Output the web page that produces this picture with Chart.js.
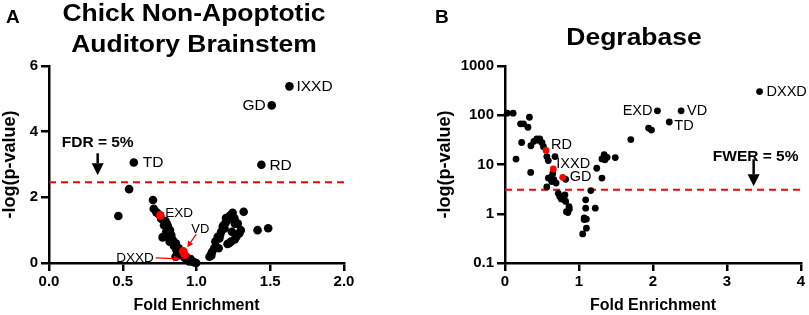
<!DOCTYPE html>
<html>
<head>
<meta charset="utf-8">
<script src="https://cdn.jsdelivr.net/npm/chart.js@4.4.1/dist/chart.umd.min.js"></script>
<style>
  body { margin: 0; background: #fff; font-family: "Liberation Sans", Arial, sans-serif; }
  #wrap { position: relative; width: 809px; height: 315px; overflow: hidden; }
  .panel { position: absolute; top: 0; }
  .letter { position: absolute; font-weight: bold; font-size: 19px; line-height: 19px; }
  .title { position: absolute; font-weight: bold; text-align: center; white-space: nowrap; transform: scaleX(1.15); }
</style>
</head>
<body>
<div id="wrap">
  <canvas class="panel" id="chartA" width="400" height="315" style="left:0"></canvas>
  <canvas class="panel" id="chartB" width="409" height="315" style="left:400px"></canvas>
  <div class="letter" style="left:6px;top:7px">A</div>
  <div class="letter" style="left:435px;top:7px">B</div>
  <div class="title" style="left:0;width:388px;top:-2px;font-size:23px;line-height:31px">Chick Non-Apoptotic<br>Auditory Brainstem</div>
  <div class="title" style="left:434px;width:400px;top:24px;font-size:23px;line-height:26px">Degrabase</div>
</div>
<script>
// ---- Panel A : chick non-apoptotic auditory brainstem ----
var chickFold = [0.543, 0.47, 0.705, 0.71, 0.727, 0.79, 0.806, 0.795, 0.777, 0.829, 0.84, 0.818,
  0.847, 0.863, 0.858, 0.885, 0.93, 0.948, 0.975, 0.998, 0.80, 0.82, 0.874, 0.96, 0.985, 0.77,
  0.74, 0.76, 0.78, 0.81, 0.83, 0.86, 0.88, 0.90, 0.92, 0.95,
  1.088, 1.106, 1.12, 1.128, 1.15, 1.144, 1.167, 1.178, 1.196, 1.211, 1.245, 1.257, 1.32, 1.24,
  1.30, 1.27, 1.234, 1.21, 1.414, 1.486, 1.155, 1.19, 1.225, 1.10, 1.28,
  1.10, 1.13, 1.16, 1.185, 1.20, 1.23, 1.26, 1.29, 1.26, 1.22];
var chickNegLogP = [2.25, 1.43, 1.92, 1.65, 1.55, 1.28, 1.11, 0.95, 0.80, 0.85, 0.70, 0.65,
  0.52, 0.40, 0.19, 0.24, 0.19, 0.09, 0.04, 0.0, 1.18, 1.0, 0.30, 0.12, 0.02, 0.78,
  1.5, 1.35, 1.15, 0.9, 0.75, 0.6, 0.45, 0.3, 0.15, 0.05,
  0.19, 0.34, 0.45, 0.65, 0.45, 0.80, 0.95, 1.11, 1.21, 1.31, 1.53, 1.36, 1.56, 0.95,
  1.0, 0.80, 0.65, 0.58, 1.0, 1.06, 0.75, 1.05, 1.42, 0.28, 1.20,
  0.22, 0.5, 0.85, 1.15, 1.37, 1.45, 1.2, 0.9, 0.72, 0.6];
var chickMotifs = ["IXXD", "GD", "TD", "RD", "EXD", "VD", "DXXD"];
var chickMotifFold = [1.63, 1.51, 0.575, 1.44, 0.755, 0.91, 0.92];
var chickMotifP = [5.38, 4.80, 3.06, 2.99, 1.45, 0.36, 0.25];
var chickMotifRed = [false, false, false, false, true, true, true];
var chickFDR = 2.46;
var chickArrowAt = 0.33;
var chickXTicks = [0, 0.5, 1.0, 1.5, 2.0];
var chickYTicks = [0, 2, 4, 6];

// ---- Panel B : Degrabase ----
var degFold = [0.03, 0.11, 0.33, 0.21, 0.25, 0.31, 0.225, 0.35, 0.39, 0.43, 0.47, 0.45, 0.50, 0.52,
  0.149, 0.347, 0.565, 0.585, 0.676, 0.645, 0.585, 0.66, 0.69, 0.82, 0.565, 0.62, 0.63,
  0.72, 0.74, 0.76, 0.81, 0.80, 0.82, 0.865, 0.87, 0.85, 0.83,
  1.05, 1.10, 1.07, 1.10, 1.07, 1.09, 1.09, 1.16, 1.22, 1.24, 1.31, 1.31, 1.34, 1.36, 1.38, 1.35,
  1.49, 1.70, 1.94, 1.98];
var degNegLogP = [110, 110, 91, 67, 67, 57, 28, 24, 29.5, 33, 33, 31, 27.8, 23,
  12.9, 6.9, 14.5, 12, 14.5, 6.5, 5.3, 4.9, 4.2, 5.0, 3.5, 5.5, 4.5,
  2.6, 2.25, 2.0, 2.4, 1.93, 1.78, 1.4, 1.25, 1.06, 1.1,
  0.39, 0.51, 0.82, 0.78, 0.76, 1.3, 1.92, 2.95, 1.3, 8.4, 5.3, 13, 15.8, 13.5, 14, 12.5,
  13.8, 32, 55, 50];
var degMotifs = ["DXXD", "EXD", "VD", "TD", "RD", "IXXD", "GD"];
var degMotifFold = [3.44, 2.06, 2.38, 2.22, 0.554, 0.653, 0.78];
var degMotifP = [302, 123, 123, 73, 19.3, 8.1, 5.5];
var degMotifRed = [false, false, false, false, true, true, true];
var degFWER = 3.07;
var degArrowAt = 3.36;
var degXTicks = [0, 1, 2, 3, 4];
var degYTicks = [0.1, 1, 10, 100, 1000];

function pts(xs, ys) {
    return xs.map(function (x, i) { return {x: x, y: ys[i]}; });
}
function pick(xs, ys, flags, want) {
    var out = [];
    for (var i = 0; i < xs.length; i++) {
        if (flags[i] === want) out.push({x: xs[i], y: ys[i]});
    }
    return out;
}

function arrow(ctx, x1, y1, x2, y2, color, width, head, headW) {
    var ang = Math.atan2(y2 - y1, x2 - x1);
    var bx = x2 - Math.cos(ang) * head, by = y2 - Math.sin(ang) * head;
    ctx.strokeStyle = color;
    ctx.fillStyle = color;
    ctx.lineWidth = width;
    ctx.beginPath();
    ctx.moveTo(x1, y1);
    ctx.lineTo(bx, by);
    ctx.stroke();
    ctx.beginPath();
    ctx.moveTo(x2, y2);
    ctx.lineTo(bx + Math.sin(ang) * headW, by - Math.cos(ang) * headW);
    ctx.lineTo(bx - Math.sin(ang) * headW, by + Math.cos(ang) * headW);
    ctx.closePath();
    ctx.fill();
}

// labels next to motif points + threshold arrow
var motifPlugin = {
    id: "motifLabels",
    afterDatasetsDraw: function (chart, args, o) {
        var ctx = chart.ctx, xs = chart.scales.x, ys = chart.scales.y;
        ctx.save();
        o.names.forEach(function (name, i) {
            var px = xs.getPixelForValue(o.fold[i]);
            var py = ys.getPixelForValue(o.p[i]);
            var lab = o.place[name];
            ctx.font = (lab.size || o.size) + "px 'Liberation Sans', Arial, sans-serif";
            ctx.fillStyle = "#000";
            ctx.textAlign = lab.align;
            ctx.textBaseline = "middle";
            ctx.fillText(name, px + lab.dx, py + lab.dy);
            if (lab.arrow) {
                var a = lab.arrow;
                arrow(ctx, px + a[0], py + a[1], px + a[2], py + a[3], "#f00", 1.3, 6, 3);
            }
        });
        // cutoff arrow
        var tx = xs.getPixelForValue(o.arrowAt);
        var ty = ys.getPixelForValue(o.cut);
        arrow(ctx, tx, ty - o.gap - o.shaft, tx, ty - o.gap, "#000", 2.5, 12, 6);
        ctx.font = "bold " + o.cutSize + "px 'Liberation Sans', Arial, sans-serif";
        ctx.textAlign = "center";
        ctx.textBaseline = "middle";
        ctx.fillStyle = "#000";
        ctx.fillText(o.cutText, tx + o.textDx, ty - o.textUp);
        ctx.restore();
    }
};

var tickFont = {family: "'Liberation Sans', Arial, sans-serif", size: 15, weight: "bold"};
var titleFont = {family: "'Liberation Sans', Arial, sans-serif", size: 16, weight: "bold"};
var yTitleFont = {family: "'Liberation Sans', Arial, sans-serif", size: 18, weight: "bold"};

function axisX(min, max, ticks, fmt) {
    return {
        type: "linear", min: min, max: max,
        afterBuildTicks: function (s) { s.ticks = ticks.map(function (v) { return {value: v}; }); },
        ticks: {font: tickFont, color: "#000", padding: 2, callback: fmt},
        grid: {drawOnChartArea: false, tickLength: 8, color: "#000", lineWidth: 2.5},
        border: {color: "#000", width: 2.5},
        title: {display: true, text: "Fold Enrichment", font: titleFont, color: "#000", padding: 0},
        afterFit: function (s) { s.height = 52; }
    };
}
function axisY(type, min, max, ticks, width) {
    return {
        type: type, min: min, max: max,
        afterBuildTicks: function (s) { s.ticks = ticks.map(function (v) { return {value: v}; }); },
        ticks: {font: tickFont, color: "#000", padding: 3, callback: function (v) { return String(v); }},
        grid: {drawOnChartArea: false, tickLength: 8, color: "#000", lineWidth: 2.5},
        border: {color: "#000", width: 2.5},
        title: {display: true, text: "-log(p-value)", font: yTitleFont, color: "#000", padding: {top: -1, bottom: 0}},
        afterFit: function (s) { s.width = width; }
    };
}

var chartA = new Chart(document.getElementById("chartA"), {
    type: "scatter",
    data: {
        datasets: [
            {data: pick(chickMotifFold, chickMotifP, chickMotifRed, true), backgroundColor: "#f00", borderWidth: 0, pointRadius: 4.3, order: 0, clip: false},
            {data: pick(chickMotifFold, chickMotifP, chickMotifRed, false), backgroundColor: "#000", borderWidth: 0, pointRadius: 4.3, order: 1, clip: false},
            {data: pts(chickFold, chickNegLogP), backgroundColor: "#000", borderWidth: 0, pointRadius: 4.3, order: 1, clip: false},
            {data: [{x: 0, y: chickFDR}, {x: 2, y: chickFDR}], showLine: true, borderColor: "#f00", borderWidth: 2,
             borderDash: [7, 5], pointRadius: 0, order: 2}
        ]
    },
    options: {
        responsive: false,
        animation: false,
        layout: {padding: {left: 0, top: 66, right: 56, bottom: 0}},
        plugins: {
            legend: {display: false},
            tooltip: {enabled: false},
            motifLabels: {
                names: chickMotifs, fold: chickMotifFold, p: chickMotifP, size: 15.5,
                place: {
                    IXXD: {dx: 7, dy: 0, align: "left"},
                    GD: {dx: -6, dy: 0, align: "right"},
                    TD: {dx: 9, dy: 0, align: "left"},
                    RD: {dx: 8, dy: 1, align: "left"},
                    EXD: {dx: 5, dy: -2, align: "left", size: 13.5},
                    VD: {dx: 8, dy: -22, align: "left", size: 13, arrow: [13, -17, 4, -4]},
                    DXXD: {dx: -31, dy: 3, align: "right", size: 13.5, arrow: [-29, 3, -5, 4]}
                },
                cut: chickFDR, arrowAt: chickArrowAt, gap: 7, shaft: 22, textUp: 40, textDx: 0,
                cutText: "FDR = 5%", cutSize: 15.5
            }
        },
        scales: {
            x: axisX(0, 2, chickXTicks, function (v) { return v.toFixed(1); }),
            y: axisY("linear", 0, 6, chickYTicks, 49)
        }
    },
    plugins: [motifPlugin]
});

var chartB = new Chart(document.getElementById("chartB"), {
    type: "scatter",
    data: {
        datasets: [
            {data: pick(degMotifFold, degMotifP, degMotifRed, true), backgroundColor: "#f00", borderWidth: 0, pointRadius: 3.4, order: 0, clip: false},
            {data: pick(degMotifFold, degMotifP, degMotifRed, false), backgroundColor: "#000", borderWidth: 0, pointRadius: 3.4, order: 1, clip: false},
            {data: pts(degFold, degNegLogP), backgroundColor: "#000", borderWidth: 0, pointRadius: 3.4, order: 1, clip: false},
            {data: [{x: 0, y: degFWER}, {x: 4, y: degFWER}], showLine: true, borderColor: "#f00", borderWidth: 2,
             borderDash: [7, 5], pointRadius: 0, order: 2}
        ]
    },
    options: {
        responsive: false,
        animation: false,
        layout: {padding: {left: 35, top: 66, right: 8, bottom: 0}},
        plugins: {
            legend: {display: false},
            tooltip: {enabled: false},
            motifLabels: {
                names: degMotifs, fold: degMotifFold, p: degMotifP, size: 14.5,
                place: {
                    DXXD: {dx: 7, dy: 0, align: "left"},
                    EXD: {dx: -5, dy: 0, align: "right"},
                    VD: {dx: 6, dy: 0, align: "left"},
                    TD: {dx: 5, dy: 4, align: "left"},
                    RD: {dx: 5, dy: -5, align: "left"},
                    IXXD: {dx: 3, dy: -5, align: "left"},
                    GD: {dx: 7, dy: 0, align: "left"}
                },
                cut: degFWER, arrowAt: degArrowAt, gap: 3.5, shaft: 27, textUp: 33, textDx: 2,
                cutText: "FWER = 5%", cutSize: 15.5
            }
        },
        scales: {
            x: axisX(0, 4, degXTicks, function (v) { return String(v); }),
            y: axisY("logarithmic", 0.1, 1000, degYTicks, 70)
        }
    },
    plugins: [motifPlugin]
});
</script>
</body>
</html>
